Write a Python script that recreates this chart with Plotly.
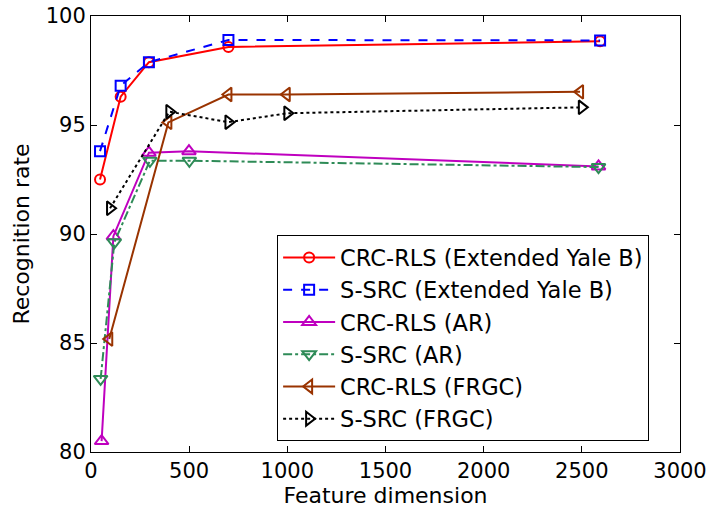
import plotly.graph_objects as go

# Data
yale_crc_x = [46, 151, 295, 700, 2593]
yale_crc_y = [92.5, 96.3, 97.88, 98.58, 98.84]
yale_ssrc_x = [46, 151, 295, 700, 2593]
yale_ssrc_y = [93.8, 96.8, 97.88, 98.9, 98.88]
ar_crc_x = [54, 114, 295, 499, 2585]
ar_crc_y = [80.5, 89.9, 93.73, 93.8, 93.1]
ar_ssrc_x = [49, 119, 300, 501, 2585]
ar_ssrc_y = [83.35, 89.62, 93.36, 93.36, 93.07]
frgc_crc_x = [93, 394, 700, 997, 2491]
frgc_crc_y = [85.18, 95.12, 96.4, 96.4, 96.52]
frgc_ssrc_x = [97, 399, 700, 1000, 2500]
frgc_ssrc_y = [91.18, 95.61, 95.13, 95.54, 95.81]

x_ticks = [0, 500, 1000, 1500, 2000, 2500, 3000]
y_ticks = [80, 85, 90, 95, 100]

series = [
    ("CRC-RLS (Extended Yale B)", yale_crc_x, yale_crc_y, "#FF0000", "solid", "circle-open", 10),
    ("S-SRC (Extended Yale B)", yale_ssrc_x, yale_ssrc_y, "#0000FF", "dash", "square-open", 10),
    ("CRC-RLS (AR)", ar_crc_x, ar_crc_y, "#BF00BF", "solid", "triangle-up-open", 12),
    ("S-SRC (AR)", ar_ssrc_x, ar_ssrc_y, "#2E8B57", "dashdot", "triangle-down-open", 12),
    ("CRC-RLS (FRGC)", frgc_crc_x, frgc_crc_y, "#993300", "solid", "triangle-left-open", 12),
    ("S-SRC (FRGC)", frgc_ssrc_x, frgc_ssrc_y, "#000000", "dot", "triangle-right-open", 12),
]

fig = go.Figure()
for name, xs, ys, col, dash, sym, msize in series:
    fig.add_trace(go.Scatter(
        x=xs, y=ys, name=name, mode="lines+markers",
        line=dict(color=col, width=2, dash=dash),
        marker=dict(symbol=sym, size=msize, color=col, line=dict(width=2, color=col)),
    ))

font_fam = "DejaVu Sans, sans-serif"
fig.update_layout(
    width=709, height=509,
    margin=dict(l=91, r=29, t=16, b=57),
    paper_bgcolor="white", plot_bgcolor="white",
    font=dict(family=font_fam, size=21, color="black"),
    showlegend=True,
    legend=dict(
        x=0.316, y=0.497, xanchor="left", yanchor="top",
        bordercolor="black", borderwidth=1, bgcolor="white",
        font=dict(family=font_fam, size=22.5, color="black"),
        tracegroupgap=0, itemwidth=52,
    ),
)
fig.update_xaxes(
    range=[0, 3000], tickvals=x_ticks, automargin=False,
    ticks="inside", ticklen=6, tickcolor="black", showgrid=False, zeroline=False,
    showline=True, linecolor="black", linewidth=1, mirror="ticks",
    title=dict(text="Feature dimension", standoff=2, font=dict(size=22)),
    tickfont=dict(size=21),
)
fig.update_yaxes(
    range=[80, 100], tickvals=y_ticks, automargin=False,
    ticks="inside", ticklen=6, tickcolor="black", showgrid=False, zeroline=False,
    showline=True, linecolor="black", linewidth=1, mirror="ticks",
    title=dict(text="Recognition rate", standoff=10, font=dict(size=22)),
    tickfont=dict(size=21),
)
fig.write_html(
    "out.html",
    config={"displayModeBar": False},
    post_script="document.body.style.margin='0';document.body.style.padding='0';document.body.style.overflow='hidden';",
)
